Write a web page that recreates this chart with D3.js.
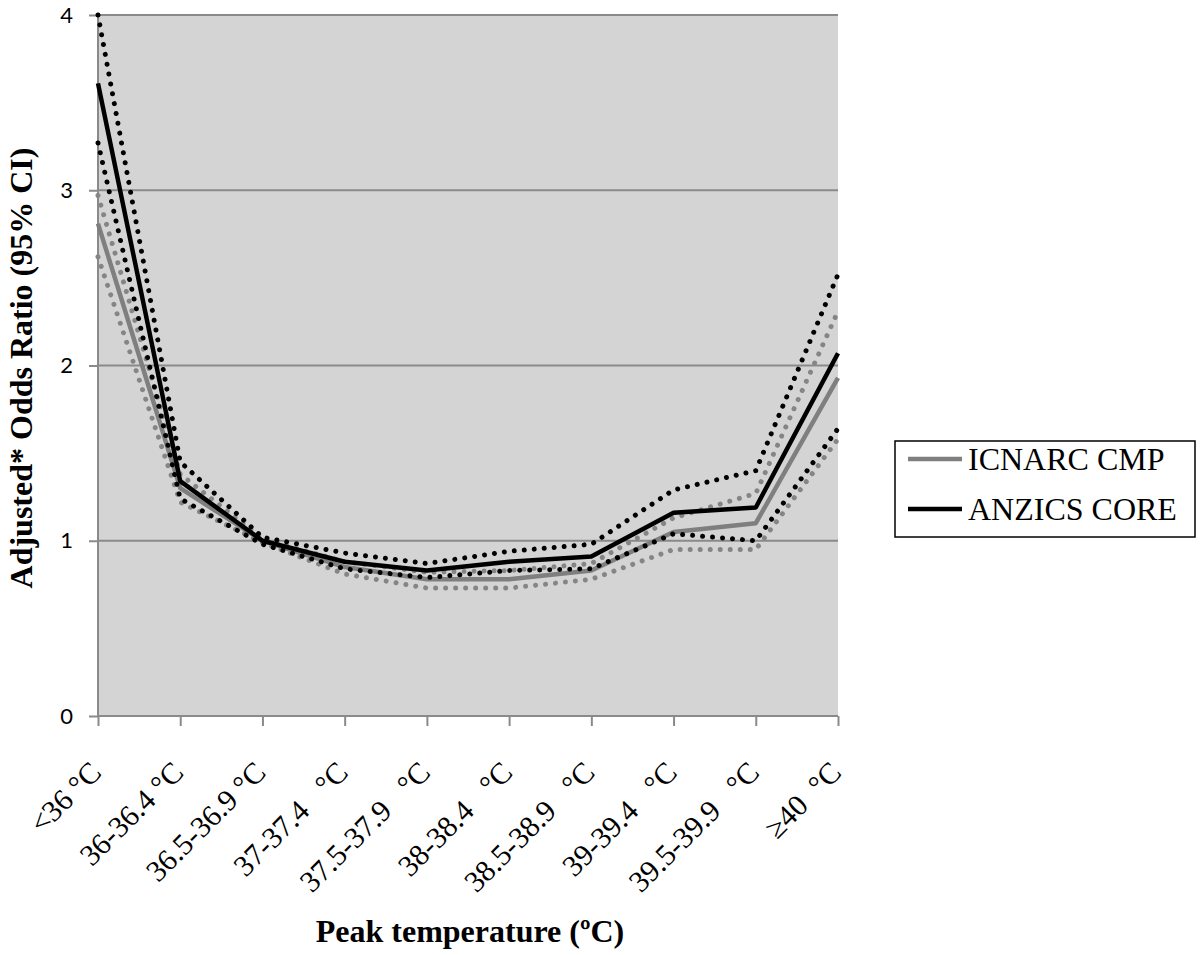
<!DOCTYPE html>
<head>
  <meta charset="utf-8">
  <style>
    body { margin: 0; background: #fff; }
    text { font-family: "Liberation Serif", "Times New Roman", serif; }
  </style>
<title>Adjusted Odds Ratio by Peak Temperature</title>
</head>

<body>

  <script src="https://cdn.jsdelivr.net/npm/d3@7"></script>

  <script>
    // categories (tick labels, spacing as in the original labels)
    const categories = ["<36 °C", "36-36.4 °C", "36.5-36.9 °C", "37-37.4   °C", "37.5-37.9   °C",
                        "38-38.4   °C", "38.5-38.9   °C", "39-39.4   °C", "39.5-39.9   °C", "≥40  °C"];

    // ICNARC CMP odds ratios and 95% CI
    const icnarc      = [2.81, 1.30, 1.00, 0.85, 0.78, 0.78, 0.83, 1.05, 1.10, 1.93];
    const icnarcUpper = [2.97, 1.38, 1.01, 0.88, 0.82, 0.83, 0.87, 1.13, 1.27, 2.31];
    const icnarcLower = [2.62, 1.22, 0.99, 0.81, 0.73, 0.73, 0.78, 0.95, 0.95, 1.58];

    // ANZICS CORE odds ratios and 95% CI
    const anzics      = [3.61, 1.34, 1.00, 0.88, 0.83, 0.88, 0.91, 1.16, 1.19, 2.07];
    const anzicsUpper = [4.00, 1.45, 1.02, 0.93, 0.87, 0.94, 0.98, 1.29, 1.40, 2.52];
    const anzicsLower = [3.27, 1.24, 0.98, 0.84, 0.79, 0.83, 0.84, 1.04, 1.00, 1.64];

    const yTicks = [0, 1, 2, 3, 4];
    const legendNames = ["ICNARC CMP", "ANZICS CORE"];

    // define the dimensions and margins for the graph
    const margin = {top: 15, right: 362, bottom: 239, left: 98};
    const width = 1200 - margin.left - margin.right;
    const height = 955 - margin.top - margin.bottom;

    const x = d3.scalePoint().domain(categories).range([0, width]);
    const y = d3.scaleLinear().domain([0, 4]).range([height, 0]);

    var svg = d3.select("body").append("svg")
        .attr("width", 1200)
        .attr("height", 955)
      .append("g")
        .attr("id", "container")
        .attr("transform", "translate(" + margin.left + "," + margin.top + ")");

    // plot area background
    svg.append("rect")
      .attr("width", width)
      .attr("height", height)
      .attr("fill", "#d4d4d4");

    // gridlines
    svg.selectAll(".grid")
      .data(yTicks.filter(d => d > 0))
      .enter().append("line")
      .attr("x1", 0).attr("x2", width)
      .attr("y1", d => y(d)).attr("y2", d => y(d))
      .attr("stroke", "#8a8a8a")
      .attr("stroke-width", 2);

    // Y axis
    var yAxis = svg.append("g")
      .call(d3.axisLeft(y).tickValues(yTicks).tickSize(9).tickPadding(16).tickFormat(d3.format("d")));
    yAxis.selectAll("line, path").attr("stroke", "#8a8a8a").attr("stroke-width", 2);
    yAxis.select("path").attr("d", "M0," + height + "V0");
    yAxis.selectAll("text")
      .style("font-family", "Lato, 'Open Sans', sans-serif")
      .style("font-size", "22px")
      .attr("fill", "#000");

    // X axis
    var xAxis = svg.append("g")
      .attr("transform", "translate(0," + height + ")")
      .call(d3.axisBottom(x).tickSize(10).tickFormat(""));
    xAxis.selectAll("line, path").attr("stroke", "#8a8a8a").attr("stroke-width", 2);
    xAxis.select("path").attr("d", "M0,0H" + width);

    // rotated tick labels
    svg.selectAll(".xlabel")
      .data(categories)
      .enter().append("text")
      .attr("class", "xlabel")
      .attr("transform", d => "translate(" + (x(d) + 5) + "," + (height + 58) + ") rotate(-45)")
      .style("text-anchor", "end")
      .style("white-space", "pre")
      .style("font-size", "30px")
      .text(d => d);

    // lines
    const line = d3.line()
      .x((d, i) => x(categories[i]))
      .y(d => y(d));

    const series = [
      {values: icnarcUpper, color: "#858585", dotted: true},
      {values: icnarcLower, color: "#858585", dotted: true},
      {values: icnarc, color: "#7f7f7f", dotted: false},
      {values: anzicsUpper, color: "#000", dotted: true},
      {values: anzicsLower, color: "#000", dotted: true},
      {values: anzics, color: "#000", dotted: false}
    ];

    svg.selectAll(".series")
      .data(series)
      .enter().append("path")
      .attr("d", d => line(d.values))
      .attr("fill", "none")
      .attr("stroke", d => d.color)
      .attr("stroke-width", d => d.dotted ? 5 : 4.5)
      .attr("stroke-linecap", d => d.dotted ? "round" : "butt")
      .attr("stroke-linejoin", "round")
      .attr("stroke-dasharray", d => d.dotted ? "0.01 10" : null);

    // axis titles
    svg.append("text")
      .attr("x", 470 - margin.left)
      .attr("y", 942 - margin.top)
      .style("text-anchor", "middle")
      .style("font-size", "32px")
      .style("font-weight", "bold")
      .text("Peak temperature (ºC)");

    svg.append("text")
      .attr("transform", "translate(" + (32 - margin.left) + "," + (368 - margin.top) + ") rotate(-90)")
      .style("text-anchor", "middle")
      .style("font-size", "32px")
      .style("font-weight", "bold")
      .text("Adjusted* Odds Ratio (95% CI)");

    // legend
    var legend = d3.select("svg").append("g");
    legend.append("rect")
      .attr("x", 895).attr("y", 441)
      .attr("width", 300).attr("height", 96)
      .attr("fill", "#fff")
      .attr("stroke", "#000")
      .attr("stroke-width", 1.5);

    legendNames.forEach(function (name, i) {
      var cy = 459 + i * 50;
      legend.append("line")
        .attr("x1", 908).attr("x2", 962)
        .attr("y1", cy).attr("y2", cy)
        .attr("stroke", i === 0 ? "#7f7f7f" : "#000")
        .attr("stroke-width", 4.5);
      legend.append("text")
        .attr("x", 968)
        .attr("y", cy + 11)
        .style("font-size", "32px")
        .text(name);
    });
  </script>

</body>
